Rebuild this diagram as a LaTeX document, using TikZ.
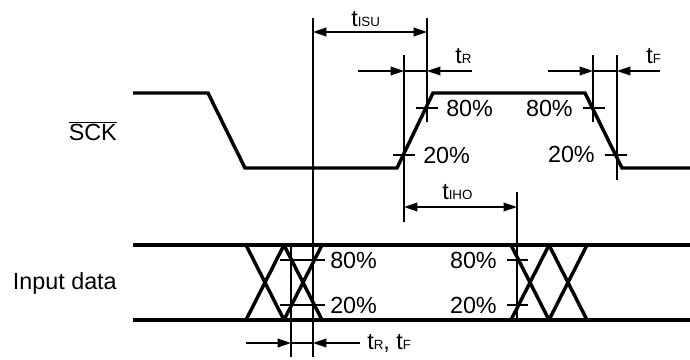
\documentclass[tikz,border=0pt]{standalone}
\usepackage{fontspec}
\setmainfont{Liberation Sans}
\usetikzlibrary{arrows.meta}
\newcommand{\tsub}[1]{t{\fontsize{10}{12}\selectfont #1}}
\tikzset{
  wave/.style={line width=2.6pt},
  guide/.style={line width=1.1pt},
  dimarrow/.style={guide,-{Triangle[length=10pt,width=6.5pt]}},
  dimboth/.style={guide,{Triangle[length=10pt,width=6.5pt]}-{Triangle[length=10pt,width=6.5pt]}},
  lbl/.style={inner sep=0pt,font=\fontsize{17.5}{20}\selectfont},
}
\begin{document}
\begin{tikzpicture}[x=0.75pt,y=0.75pt,yscale=-1,xscale=1]
			\useasboundingbox (0,0) rectangle (690,360);
			
			%SCK waveform
			\draw [wave] (133,93) -- (208,93) -- (245,168) -- (397,168) -- (433,93) -- (585,93) -- (622,168) -- (690,168) ;
			%Input data waveform
			\draw [wave] (133,245) -- (690,245) ;
			\draw [wave] (133,320) -- (690,320) ;
			\foreach \x in {246,284,511,549} {
				\draw [wave] (\x,245) -- ++(38,75) ;
				\draw [wave] (\x,320) -- ++(38,-75) ;
			}
			
			%Guide lines
			\coordinate (isuT) at (313,18);   \coordinate (isuB) at (313,357);
			\coordinate (riseT) at (427,18);  \coordinate (riseB) at (427,122);
			\coordinate (ihoT) at (404,55);   \coordinate (ihoB) at (404,222);
			\coordinate (fallT) at (593,55);  \coordinate (fallB) at (593,122);
			\coordinate (lowT) at (617,55);   \coordinate (lowB) at (617,180);
			\coordinate (holdT) at (517,192); \coordinate (holdB) at (517,320);
			\coordinate (trfT) at (291,245);  \coordinate (trfB) at (291,357);
			\draw [guide] (isuT) -- (isuB) ;
			\draw [guide] (riseT) -- (riseB) ;
			\draw [guide] (ihoT) -- (ihoB) ;
			\draw [guide] (fallT) -- (fallB) ;
			\draw [guide] (lowT) -- (lowB) ;
			\draw [guide] (holdT) -- (holdB) ;
			\draw [guide] (trfT) -- (trfB) ;
			
			%Level ticks
			\draw [guide] (393,155) -- (415,155) ;
			\draw [guide] (416,108) -- (438,108) ;
			\draw [guide] (583,108) -- (605,108) ;
			\draw [guide] (605,155) -- (627,155) ;
			\draw [guide] (280,260) -- (325,260) ;
			\draw [guide] (280,305) -- (325,305) ;
			\draw [guide] (507,260) -- (528,260) ;
			\draw [guide] (507,305) -- (528,305) ;
			
			%Dimension arrows
			\draw [dimboth] (isuT |- 0,32) -- (riseT |- 0,32) ;
			\draw [dimboth] (ihoT |- 0,207) -- (holdT |- 0,207) ;
			\coordinate (trA) at (358,71);  \coordinate (trB) at (472,71);
			\draw [dimarrow] (trA) -- (ihoT |- trA) ;
			\draw [dimarrow] (trB) -- (riseT |- trB) ;
			\draw [guide] (ihoT |- trA) -- (riseT |- trA) ;
			\coordinate (tfA) at (548,71);  \coordinate (tfB) at (660,71);
			\draw [dimarrow] (tfA) -- (fallT |- tfA) ;
			\draw [dimarrow] (tfB) -- (lowT |- tfB) ;
			\draw [guide] (fallT |- tfA) -- (lowT |- tfA) ;
			\coordinate (trfA) at (246,343);  \coordinate (trfC) at (360,343);
			\draw [dimarrow] (trfA) -- (trfT |- trfA) ;
			\draw [dimarrow] (trfC) -- (isuT |- trfC) ;
			\draw [guide] (trfT |- trfA) -- (isuT |- trfA) ;
			
			% Text Node
			\node (sck) [lbl,anchor=east] at (117,131) {$\overline{\mbox{SCK}}$};
			% Text Node
			\node (input) [lbl,anchor=east] at (117,283) {Input data};
			% Text Node
			\node (tisu) [lbl,anchor=west] at (351,19) {\tsub{ISU}};
			% Text Node
			\node (tr) [lbl,anchor=west] at (455,56) {\tsub{R}};
			% Text Node
			\node (tf) [lbl,anchor=west] at (646,56) {\tsub{F}};
			% Text Node
			\node (tiho) [lbl,anchor=west] at (442,192) {\tsub{IHO}};
			% Text Node
			\node (trf) [lbl,anchor=west] at (367,343) {\tsub{R}, \tsub{F}};
			% Text Node
			\node (rhi) [lbl,anchor=west] at (446,108) {80\%};
			% Text Node
			\node (rlo) [lbl,anchor=west] at (423,155) {20\%};
			% Text Node
			\node (fhi) [lbl,anchor=east] at (573,108) {80\%};
			% Text Node
			\node (flo) [lbl,anchor=east] at (595,154) {20\%};
			% Text Node
			\node (dhi) [lbl,anchor=west] at (330,260) {80\%};
			% Text Node
			\node (dlo) [lbl,anchor=west] at (330,305) {20\%};
			% Text Node
			\node (ehi) [lbl,anchor=east] at (497,260) {80\%};
			% Text Node
			\node (elo) [lbl,anchor=east] at (497,305) {20\%};
		\end{tikzpicture}
\end{document}
